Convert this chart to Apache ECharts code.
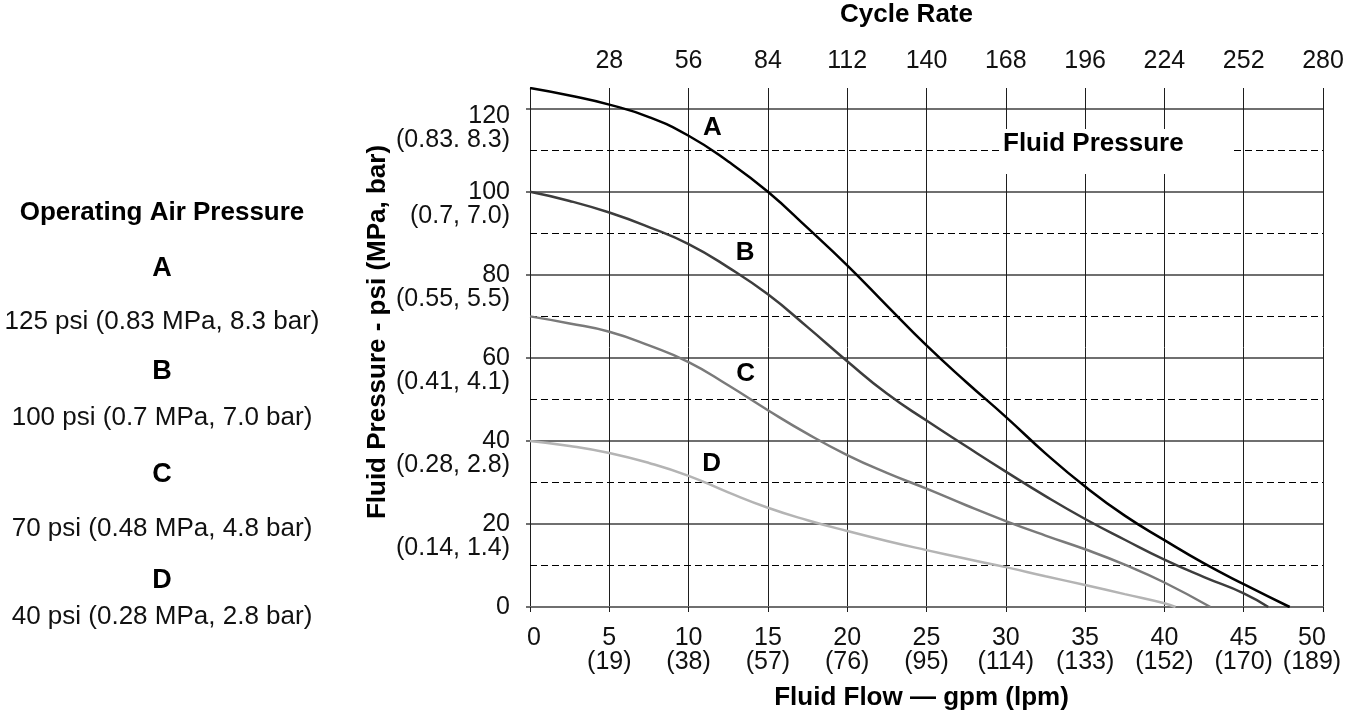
<!DOCTYPE html>
<html>
<head>
<meta charset="utf-8">
<script src="https://cdn.jsdelivr.net/npm/echarts@6/dist/echarts.min.js"></script>
<style>
html,body{margin:0;padding:0;background:#fff;}
#chart{width:1345px;height:717px;}
</style>
</head>
<body>
<div id="chart"></div>
<script>
// ---- data ----
const flowA = [0, 2.5, 5, 7.5, 10, 12.5, 15, 17.5, 20, 22.5, 25, 27.5, 30, 32.5, 35, 37.5, 40, 42.5, 45, 47.9];
const pressureA = [125, 123.2, 121, 118, 113.5, 107.3, 100, 91.3, 82.3, 72.6, 63, 54.2, 45.8, 37, 29, 22, 16.1, 10.5, 5.5, 0];

const flowB = [0, 2.5, 5, 7.5, 10, 12.5, 15, 17.5, 20, 22.5, 25, 27.5, 30, 32.5, 35, 37.5, 40, 42.5, 45, 46.55];
const pressureB = [100, 97.8, 95, 91.5, 87.4, 81.8, 75.3, 67.4, 59.2, 51.4, 44.9, 38.7, 32.6, 26.7, 21.2, 16.2, 11.4, 7.2, 3.3, 0];

const flowC = [0, 2.5, 5, 7.5, 10, 12.5, 15, 17.5, 20, 22.5, 25, 27.5, 30, 32.5, 35, 37.5, 40, 42.9];
const pressureC = [70, 68.3, 66.3, 63, 59, 53.4, 47.4, 41.7, 36.6, 32.3, 28.5, 24.5, 20.7, 17.2, 13.9, 10.2, 5.9, 0];

const flowD = [0, 2.5, 5, 7.5, 10, 12.5, 15, 17.5, 20, 22.5, 25, 27.5, 30, 32.5, 35, 37.5, 40, 40.7];
const pressureD = [40, 38.8, 37.1, 34.7, 31.6, 27.6, 23.9, 20.9, 18.3, 15.9, 13.7, 11.6, 9.6, 7.4, 5.3, 3.1, 0.9, 0];

const curveNames = ['A', 'B', 'C', 'D'];
const lpmLabels = ['', '19', '38', '57', '76', '95', '114', '133', '152', '170', '189'];
const mpaLevels = [110, 90, 70, 50, 30, 10];
const mpaLabels = ['(0.83. 8.3)', '(0.7, 7.0)', '(0.55, 5.5)', '(0.41, 4.1)', '(0.28, 2.8)', '(0.14, 1.4)'];
const airLetters = ['A', 'B', 'C', 'D'];
const airTexts = ['125 psi (0.83 MPa, 8.3 bar)', '100 psi (0.7 MPa, 7.0 bar)', '70 psi (0.48 MPa, 4.8 bar)', '40 psi (0.28 MPa, 2.8 bar)'];

// ---- chart ----
const FONT = '"Liberation Sans", Arial, Helvetica, sans-serif';
const zip = (xs, ys) => xs.map((x, i) => [x, ys[i]]);
const chart = echarts.init(document.getElementById('chart'), null, {renderer: 'canvas'});

const curveColors = ['#000000', '#3d3d3d', '#7a7a7a', '#b4b4b4'];
const curveData = [zip(flowA, pressureA), zip(flowB, pressureB), zip(flowC, pressureC), zip(flowD, pressureD)];

const series = curveData.map((d, i) => ({
  name: curveNames[i],
  type: 'line',
  data: d,
  smooth: 0.5,
  symbol: 'none',
  z: 3,
  lineStyle: {color: curveColors[i], width: 2.5},
  silent: true,
  animation: false
}));

// dashed MPa reference lines
series[0].markLine = {
  silent: true,
  z: 1,
  symbol: ['none', 'none'],
  label: {show: false},
  lineStyle: {type: [7, 4], color: '#000', width: 1},
  animation: false,
  data: mpaLevels.map(v => ({yAxis: v}))
};

// annotations (curve letters + "Fluid Pressure" box)
const letterLabel = {
  show: true, position: 'inside', align: 'center', verticalAlign: 'middle',
  fontFamily: FONT, fontSize: 26, fontWeight: 'bold', color: '#000'
};
series.push({
  type: 'scatter',
  data: [],
  z: 10,
  silent: true,
  animation: false,
  markPoint: {
    z: 10,
    silent: true,
    animation: false,
    symbol: 'circle',
    symbolSize: 1,
    itemStyle: {color: 'rgba(0,0,0,0)'},
    label: letterLabel,
    data: [
      {coord: [11.5, 115.3], value: 'A', label: Object.assign({}, letterLabel, {formatter: curveNames[0]})},
      {coord: [13.56, 85.3], value: 'B', label: Object.assign({}, letterLabel, {formatter: curveNames[1]})},
      {coord: [13.6, 56.1], value: 'C', label: Object.assign({}, letterLabel, {formatter: curveNames[2]})},
      {coord: [11.46, 34.4], value: 'D', label: Object.assign({}, letterLabel, {formatter: curveNames[3]})},
      {coord: [29.76, 115.1], value: 'FP', label: {
        show: true, position: 'inside', align: 'left', verticalAlign: 'top',
        formatter: 'Fluid Pressure', fontFamily: FONT, fontSize: 26, fontWeight: 'bold', color: '#000',
        backgroundColor: '#ffffff', padding: [2, 49, 17, 1], lineHeight: 26
      }}
    ]
  }
});

const richBase = {fontFamily: FONT, fontSize: 25, color: '#111'};

const option = {
  animation: false,
  backgroundColor: '#ffffff',
  grid: {left: 530, right: 22, top: 88, bottom: 110, containLabel: false, outerBoundsMode: 'none'},
  xAxis: [
    {
      type: 'value', position: 'bottom', min: 0, max: 50, interval: 5,
      name: 'Fluid Flow — gpm (lpm)', nameLocation: 'middle', nameGap: 78,
      nameTextStyle: {fontFamily: FONT, fontSize: 26, fontWeight: 'bold', color: '#000', lineHeight: 26, padding: [0, 10, 0, 0]},
      axisLine: {show: true, onZero: false, lineStyle: {color: '#6f6f6f', width: 2}},
      axisTick: {show: true, length: 5, lineStyle: {color: '#1e1e1e', width: 1}},
      splitLine: {show: true, lineStyle: {color: '#1e1e1e', width: 1}},
      axisLabel: {
        interval: 0, showMinLabel: true, showMaxLabel: true,
        margin: 19, verticalAlign: 'top', lineHeight: 24,
        fontFamily: FONT, fontSize: 25, color: '#111',
        formatter: v => {
          const i = Math.round(v / 5);
          if (!lpmLabels[i]) return '{z|' + v + '}';
          const t = i === lpmLabels.length - 1 ? 'e' : 'n';
          return '{' + t + '|' + v + '}\n{' + t + '|(' + lpmLabels[i] + ')}';
        },
        rich: {
          z: {fontFamily: FONT, fontSize: 25, color: '#111', lineHeight: 24, padding: [0, 0, 0, 8]},
          n: {fontFamily: FONT, fontSize: 25, color: '#111', lineHeight: 24},
          e: {fontFamily: FONT, fontSize: 25, color: '#111', lineHeight: 24, padding: [0, 22, 0, 0]}
        }
      }
    },
    {
      type: 'value', position: 'top', min: 0, max: 280, interval: 28,
      name: 'Cycle Rate', nameLocation: 'middle', nameGap: 60,
      nameTextStyle: {fontFamily: FONT, fontSize: 26, fontWeight: 'bold', color: '#000', lineHeight: 26, padding: [0, 40, 0, 0]},
      axisLine: {show: false},
      axisTick: {show: false},
      splitLine: {show: false},
      axisLabel: {
        interval: 0, showMinLabel: true, showMaxLabel: true,
        margin: 14, lineHeight: 26,
        fontFamily: FONT, fontSize: 25, color: '#111',
        formatter: v => (v === 0 ? '' : String(v))
      }
    }
  ],
  yAxis: {
    type: 'value', min: 0, max: 125, interval: 20,
    axisLine: {show: true, lineStyle: {color: '#1e1e1e', width: 1}},
    axisTick: {show: true, length: 4, lineStyle: {color: '#6f6f6f', width: 2}},
    splitLine: {show: true, showMaxLine: false, lineStyle: {color: '#6f6f6f', width: 2}},
    axisLabel: {
      margin: 20, align: 'right', verticalAlign: 'middle',
      showMaxLabel: false,
      fontFamily: FONT, fontSize: 25, color: '#111',
      formatter: v => {
        if (v > 120) return '';
        const idx = mpaLevels.indexOf(v - 10);
        const m = idx >= 0 ? mpaLabels[idx] : ' ';
        const s = v === 120 ? 'st' : 's';
        return '{' + s + '| }\n{p|' + v + '}\n{m|' + m + '}';
      },
      rich: {
        s: Object.assign({lineHeight: 24}, richBase),
        st: Object.assign({lineHeight: 38}, richBase),
        p: Object.assign({lineHeight: 24}, richBase),
        m: Object.assign({lineHeight: 24}, richBase)
      }
    }
  },
  series: series,
  graphic: [
    {
      type: 'text', x: 378, y: 332, rotation: Math.PI / 2, z: 100,
      style: {text: 'Fluid Pressure - psi (MPa, bar)', fontFamily: FONT, fontSize: 26, fontWeight: 'bold',
        fill: '#000', align: 'center', verticalAlign: 'middle'}
    },
    {
      type: 'text', x: 162, y: 213, z: 100,
      style: {text: 'Operating Air Pressure', fontFamily: FONT, fontSize: 26, fontWeight: 'bold',
        fill: '#000', align: 'center', verticalAlign: 'middle'}
    }
  ]
};

// left-hand legend block
const letterYs = [269, 372, 475, 581];
const textYs = [322, 418, 529, 617];
airLetters.forEach((l, i) => {
  option.graphic.push({
    type: 'text', x: 162, y: letterYs[i], z: 100,
    style: {text: l, fontFamily: FONT, fontSize: 27, fontWeight: 'bold', fill: '#000', align: 'center', verticalAlign: 'middle'}
  });
  option.graphic.push({
    type: 'text', x: 162, y: textYs[i], z: 100,
    style: {text: airTexts[i], fontFamily: FONT, fontSize: 26, fill: '#111', align: 'center', verticalAlign: 'middle'}
  });
});

chart.setOption(option);
</script>
</body>
</html>
